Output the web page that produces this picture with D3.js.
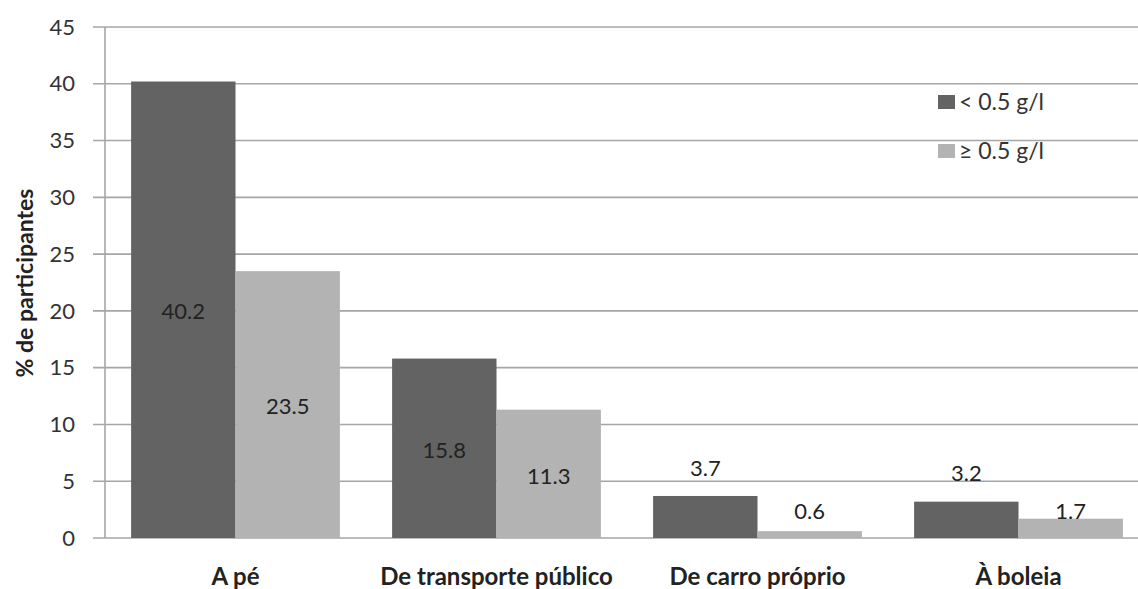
<!DOCTYPE html>
<html><head><meta charset="utf-8">
<script src="https://cdn.jsdelivr.net/npm/d3@7"></script>
<style>body{margin:0;background:#fff}svg{display:block}text{font-family:Lato,"Open Sans",sans-serif}</style>
</head><body>
<svg id="c" width="1138" height="589"></svg>
<script>
const categories = ["A pé", "De transporte público", "De carro próprio", "À boleia"];
const seriesNames = ["< 0.5 g/l", "≥ 0.5 g/l"];
const below05 = [40.2, 15.8, 3.7, 3.2];
const above05 = [23.5, 11.3, 0.6, 1.7];
const yTicks = [0, 5, 10, 15, 20, 25, 30, 35, 40, 45];
const colors = ["#636363", "#b3b3b3"];

const svg = d3.select("#c");
const x0 = 105, x1 = 1149, yTop = 27, yBot = 538;
const y = d3.scaleLinear().domain([0, 45]).range([yBot, yTop]);
const x = d3.scaleBand().domain(categories).range([x0, x1]).paddingInner(0.2).paddingOuter(0.1);
const xs = d3.scaleBand().domain([0, 1]).range([0, x.bandwidth()]);

// gridlines
svg.append("g").selectAll("line").data(yTicks).join("line")
  .attr("x1", 93).attr("x2", 1138).attr("y1", d => y(d)).attr("y2", d => y(d))
  .attr("stroke", "#a6a6a6").attr("stroke-width", 1.6);
// y axis line
svg.append("line").attr("x1", x0).attr("x2", x0).attr("y1", yTop).attr("y2", yBot)
  .attr("stroke", "#a6a6a6").attr("stroke-width", 1.6);
// tick labels
svg.append("g").selectAll("text").data(yTicks).join("text")
  .attr("x", 75).attr("y", d => y(d)).attr("dy", "0.35em").attr("text-anchor", "end")
  .attr("font-size", 22).attr("fill", "#333").text(d => d);

const rows = [];
categories.forEach((c, i) => {
  rows.push({c, s: 0, v: below05[i]});
  rows.push({c, s: 1, v: above05[i]});
});

svg.append("g").selectAll("rect").data(rows).join("rect")
  .attr("x", d => x(d.c) + xs(d.s)).attr("width", xs.bandwidth())
  .attr("y", d => y(d.v)).attr("height", d => y(0) - y(d.v))
  .attr("fill", d => colors[d.s]);

// data labels
function labelY(d) {
  if (d.v >= 10) return (y(d.v) + y(0)) / 2 + 2;
  if (d.s === 0) return y(d.v) - 28;
  return y(2.35);
}
svg.append("g").selectAll("text").data(rows).join("text")
  .attr("x", d => x(d.c) + xs(d.s) + xs.bandwidth() / 2)
  .attr("y", labelY).attr("dy", "0.35em").attr("text-anchor", "middle")
  .attr("font-size", 22).attr("fill", "#222").text(d => d.v.toFixed(1));

// category labels
svg.append("g").selectAll("text").data(categories).join("text")
  .attr("x", d => x(d) + x.bandwidth() / 2).attr("y", 577).attr("dy", "0.35em")
  .attr("text-anchor", "middle").attr("font-size", 24).attr("font-weight", "bold")
  .attr("fill", "#222").text(d => d);

// y title
svg.append("text").attr("transform", "translate(25,283) rotate(-90)")
  .attr("text-anchor", "middle").attr("dy", "0.35em").attr("font-size", 23)
  .attr("font-weight", "bold").attr("fill", "#222").text("% de participantes");

// legend
const lg = svg.append("g").selectAll("g").data(seriesNames).join("g")
  .attr("transform", (d, i) => `translate(938,${102 + i * 49})`);
lg.append("rect").attr("x", 0).attr("y", -7).attr("width", 17).attr("height", 14)
  .attr("fill", (d, i) => colors[i]);
lg.append("text").attr("x", 21).attr("y", 0).attr("dy", "0.35em")
  .attr("font-size", 23).attr("fill", "#333").text(d => d);
</script>
</body></html>
